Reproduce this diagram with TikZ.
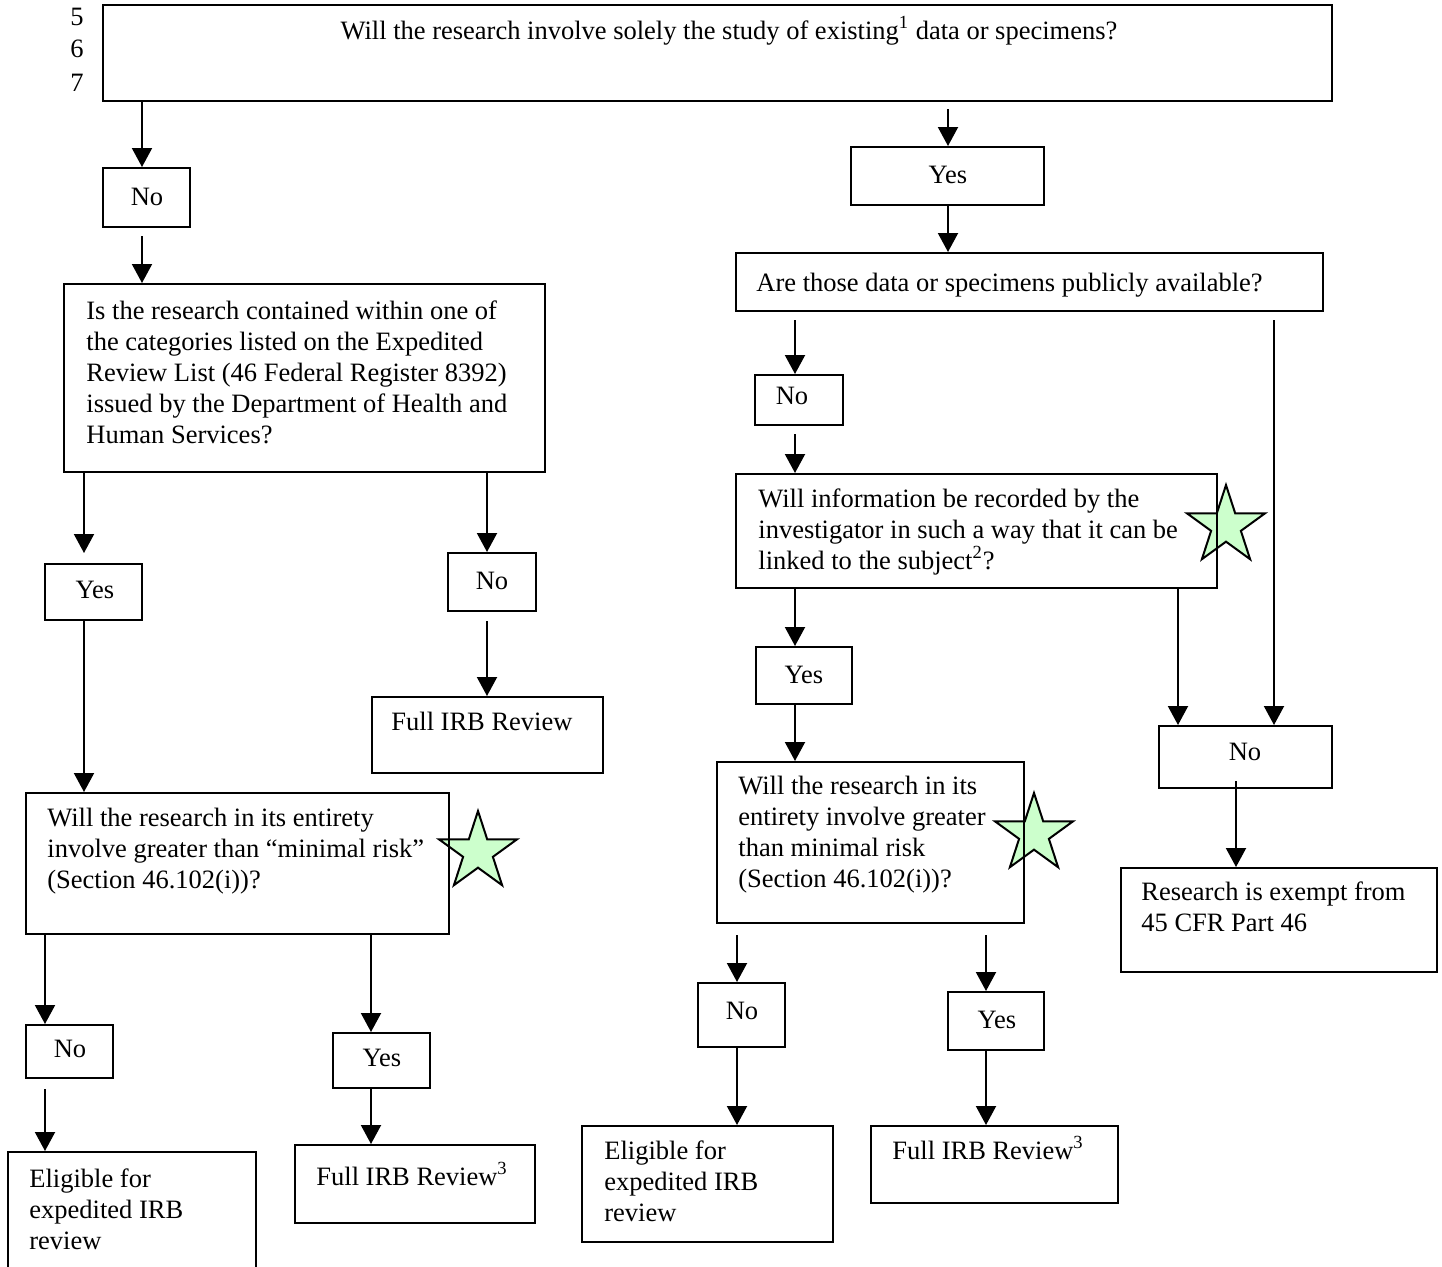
\documentclass[tikz,border=0pt]{standalone}
\usepackage{fontspec}
\setmainfont{Liberation Serif}
\usetikzlibrary{arrows.meta,shapes.geometric,fit,calc}
\definecolor{starg}{HTML}{CCFFCC}
\begin{document}
\begin{tikzpicture}[x=0.5pt,y=-0.5pt,
  every node/.style={font=\fontsize{13.25}{15.5}\selectfont},
  box/.style={draw,line width=1pt,inner sep=0pt},
  txt/.style={inner sep=0pt,anchor=base west,align=left},
  lab/.style={inner sep=0pt,anchor=center},
  arr/.style={line width=1pt,-{Triangle[length=9.5pt,width=10pt]}},
  starn/.style={star,star points=5,star point ratio=2.618,draw,line width=1pt,fill=starg,minimum size=41pt,inner sep=0pt}]
\clip (0,0) rectangle (1442,1266);
\fill[white] (0,0) rectangle (1442,1266);

% line numbers
\node[lab] (n5) at (77,17) {5};
\node[lab] (n6) at (77,49) {6};
\node[lab] (n7) at (77,83) {7};

% stars (behind box outlines)
\node[starn] (s1) at (478,852) {};
\node[starn] (s2) at (1226,526) {};
\node[starn] (s3) at (1034,834) {};

% boxes and texts (base of a multi-line text = baseline of its last line)
\node[box,fit={(103,5) (1332,101)}] (top) {};
\node[txt,anchor=base] (topt) at (729,39) {Will the research involve solely the study of existing\textsuperscript{1} data or specimens?};

\node[box,fit={(103,168) (190,227)}] (no1) {};
\node[lab] (no1t) at (147,197) {No};
\node[box,fit={(851,147) (1044,205)}] (yes1) {};
\node[lab] (yes1t) at (948,175) {Yes};

\node[box,fit={(64,284) (545,472)}] (isq) {};
\node[txt] (isqt) at (86,443) {Is the research contained within one of\\the categories listed on the Expedited\\Review List (46 Federal Register 8392)\\issued by the Department of Health and\\Human Services?};

\node[box,fit={(45,564) (142,620)}] (yes2) {};
\node[lab] (yes2t) at (95,590) {Yes};
\node[box,fit={(448,553) (536,611)}] (no2) {};
\node[lab] (no2t) at (492,581) {No};
\node[box,fit={(372,697) (603,773)}] (full1) {};
\node[txt] (full1t) at (391,730) {Full IRB Review};

\node[box,fit={(26,793) (449,934)}] (riskL) {};
\node[txt] (riskLt) at (47,888) {Will the research in its entirety\\involve greater than “minimal risk”\\(Section 46.102(i))?};

\node[box,fit={(26,1025) (113,1078)}] (no3) {};
\node[lab] (no3t) at (70,1049) {No};
\node[box,fit={(333,1033) (430,1088)}] (yes3) {};
\node[lab] (yes3t) at (382,1058) {Yes};
\node[box,fit={(8,1152) (256,1280)}] (elig1) {};
\node[txt] (elig1t) at (29,1249) {Eligible for\\expedited IRB\\review};
\node[box,fit={(295,1145) (535,1223)}] (full2) {};
\node[txt] (full2t) at (316,1185) {Full IRB Review\textsuperscript{3}};

\node[box,fit={(736,253) (1323,311)}] (are) {};
\node[txt] (aret) at (756,291) {Are those data or specimens publicly available?};

\node[box,fit={(755,375) (843,425)}] (no4) {};
\node[lab] (no4t) at (792,396) {No};
\node[box,fit={(736,474) (1217,588)}] (info) {};
\node[txt] (infot) at (758,569) {Will information be recorded by the\\investigator in such a way that it can be\\linked to the subject\textsuperscript{2}?};

\node[box,fit={(756,647) (852,704)}] (yes4) {};
\node[lab] (yes4t) at (804,675) {Yes};
\node[box,fit={(717,762) (1024,923)}] (riskM) {};
\node[txt] (riskMt) at (738,887) {Will the research in its\\entirety involve greater\\than minimal risk\\(Section 46.102(i))?};

\node[box,fit={(698,983) (785,1047)}] (no6) {};
\node[lab] (no6t) at (742,1011) {No};
\node[box,fit={(948,992) (1044,1050)}] (yes5) {};
\node[lab] (yes5t) at (997,1020) {Yes};
\node[box,fit={(582,1126) (833,1242)}] (elig2) {};
\node[txt] (elig2t) at (604,1221) {Eligible for\\expedited IRB\\review};
\node[box,fit={(871,1126) (1118,1203)}] (full3) {};
\node[txt] (full3t) at (892,1159) {Full IRB Review\textsuperscript{3}};

\node[box,fit={(1159,726) (1332,788)}] (no5) {};
\node[lab] (no5t) at (1245,752) {No};
\node[box,fit={(1121,868) (1437,972)}] (exempt) {};
\node[txt] (exemptt) at (1141,931) {Research is exempt from\\45 CFR Part 46};

% x guides for connectors
\coordinate (xA) at (142,0);
\coordinate (xB) at (948,0);
\coordinate (xC) at (84,0);
\coordinate (xD) at (487,0);
\coordinate (xE) at (45,0);
\coordinate (xF) at (371,0);
\coordinate (xG) at (795,0);
\coordinate (xH) at (1274,0);
\coordinate (xI) at (1178,0);
\coordinate (xJ) at (737,0);
\coordinate (xK) at (986,0);
\coordinate (xL) at (1236,0);

% connectors
\draw[arr] (top.south -| xA) -- (no1.north -| xA);
\draw[arr,shorten <=3.5pt] (top.south -| xB) -- (yes1.north -| xB);
\draw[arr] (yes1.south -| xB) -- (are.north -| xB);
\draw[arr,shorten <=4pt] (no1.south -| xA) -- (isq.north -| xA);
\draw[arr,shorten >=5pt] (isq.south -| xC) -- (yes2.north -| xC);
\draw[arr] (isq.south -| xD) -- (no2.north -| xD);
\draw[arr,shorten <=4.5pt] (no2.south -| xD) -- (full1.north -| xD);
\draw[arr] (yes2.south -| xC) -- (riskL.north -| xC);
\draw[arr] (riskL.south -| xE) -- (no3.north -| xE);
\draw[arr,shorten <=5pt] (no3.south -| xE) -- (elig1.north -| xE);
\draw[arr] (riskL.south -| xF) -- (yes3.north -| xF);
\draw[arr] (yes3.south -| xF) -- (full2.north -| xF);
\draw[arr,shorten <=4pt] (are.south -| xG) -- (no4.north -| xG);
\draw[arr,shorten <=4pt] (no4.south -| xG) -- (info.north -| xG);
\draw[arr,shorten <=4pt] (are.south -| xH) -- (no5.north -| xH);
\draw[arr] (info.south -| xG) -- (yes4.north -| xG);
\draw[arr] (info.south -| xI) -- (no5.north -| xI);
\draw[arr] (yes4.south -| xG) -- (riskM.north -| xG);
\draw[arr,shorten <=5.5pt] (riskM.south -| xJ) -- (no6.north -| xJ);
\draw[arr,shorten <=5.5pt] (riskM.south -| xK) -- (yes5.north -| xK);
\draw[arr] (no6.south -| xJ) -- (elig2.north -| xJ);
\draw[arr] (yes5.south -| xK) -- (full3.north -| xK);
\draw[arr,shorten <=-4pt] (no5.south -| xL) -- (exempt.north -| xL);
\end{tikzpicture}
\end{document}
